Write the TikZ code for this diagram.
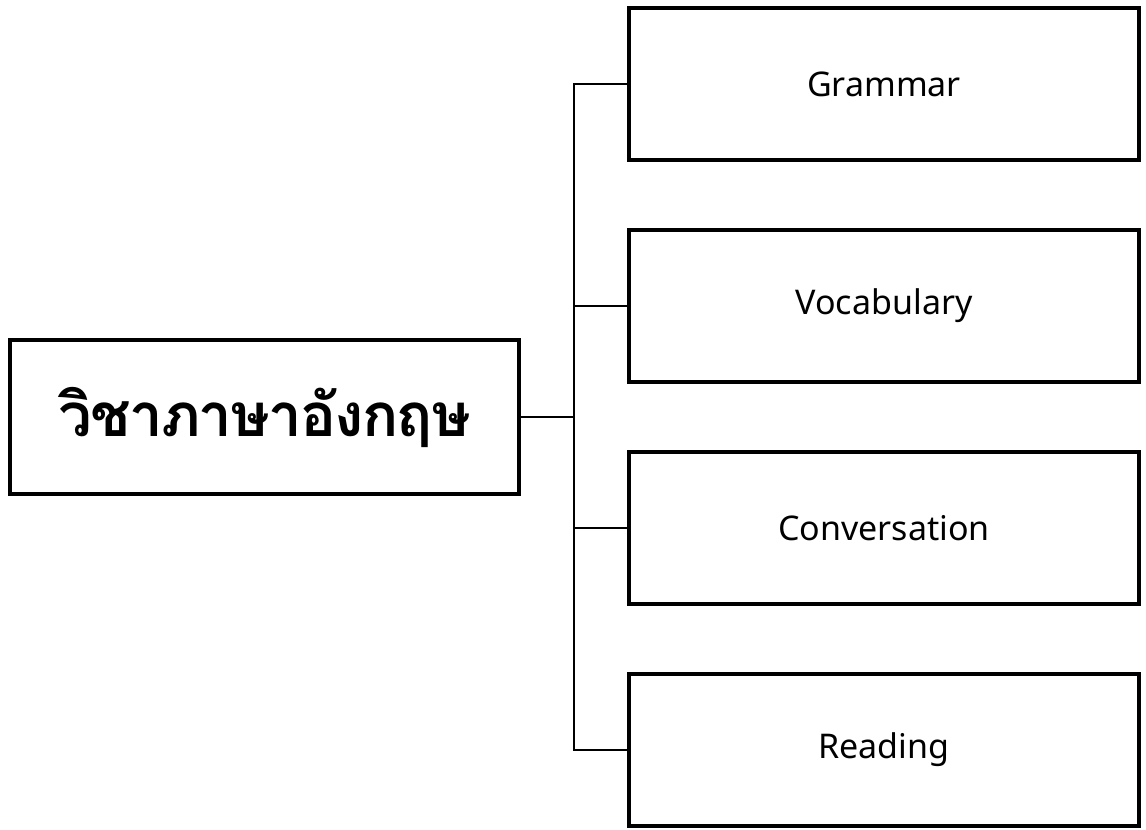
\documentclass[tikz,border=0pt]{standalone}
\usepackage{fontspec}
\setmainfont{Noto Sans}
\newfontfamily\thaifont[Script=Thai, LetterSpace=-3]{Loma}
\usetikzlibrary{positioning}

\begin{document}
\begin{tikzpicture}[
      x = 0.75pt,
      y = -0.75pt,
      subject/.style={
        draw = black,
        line width = 3pt,
        minimum width = 382pt,
        minimum height = 115pt,
        align = center,
        font = \thaifont\bfseries\fontsize{45}{54}\selectfont,
      },
      topic/.style={
        draw = black,
        line width = 3pt,
        minimum width = 383pt,
        minimum height = 114pt,
        align = center,
        font = \fontsize{25.5}{30}\selectfont,
      },
      link/.style={
        line width = 1.5pt,
        black,
      },
    ]
    \useasboundingbox (0,0) rectangle (1146,830);
    \node[subject] (eng) at (264.5,417) {วิชาภาษาอังกฤษ};
    \node[topic] (gram) at (884,84.5) {Grammar};
    \node[topic] (vocab) at (884,306) {Vocabulary};
    \node[topic] (conv) at (884,528) {Conversation};
    \node[topic] (read) at (884,750) {Reading};
    \coordinate (hub) at (574,417);
    \draw[link] (eng) -- (hub);
    \foreach \t in {gram, vocab, conv, read}
      \draw[link] (hub) |- (\t.west);
  \end{tikzpicture}
\end{document}
